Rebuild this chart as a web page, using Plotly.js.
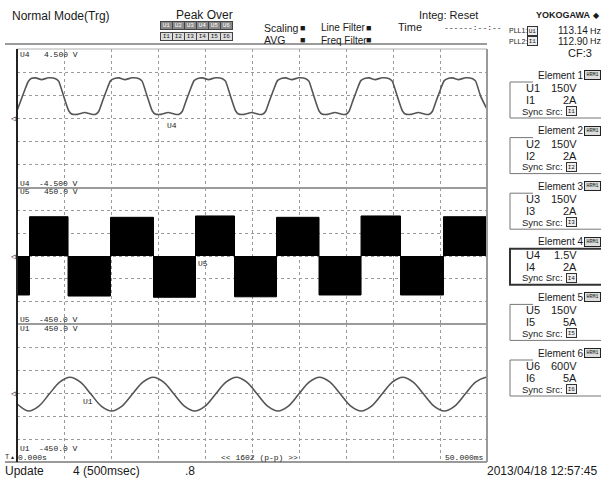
<!DOCTYPE html>
<html><head><meta charset="utf-8">
<script src="https://cdn.plot.ly/plotly-3.0.1.min.js"></script>
<style>html,body{margin:0;padding:0;background:#fff;} #chart{width:601px;height:482px;}</style>
</head><body><div id="chart"></div>
<script>
// ---- data (time in ms, values in V) ----
const timeU4 = [0, 0.43, 0.86, 1.20,
 1.56, 1.99, 2.62, 3.37, 4.11, 4.43, 4.96, 5.50, 5.82, 6.45, 7.20, 7.94, 8.37, 8.69, 9.11, 9.54, 9.96,
 10.44, 10.87, 11.50, 12.25, 12.99, 13.31, 13.84, 14.38, 14.70, 15.33, 16.08, 16.82, 17.25, 17.57, 17.99, 18.42, 18.84,
 19.31, 19.74, 20.37, 21.12, 21.86, 22.18, 22.71, 23.25, 23.57, 24.20, 24.95, 25.69, 26.12, 26.44, 26.86, 27.29, 27.71,
 28.18, 28.61, 29.24, 29.99, 30.73, 31.05, 31.58, 32.12, 32.44, 33.07, 33.82, 34.56, 34.99, 35.31, 35.73, 36.16, 36.58,
 37.05, 37.48, 38.11, 38.86, 39.60, 39.92, 40.45, 40.99, 41.31, 41.94, 42.69, 43.43, 43.86, 44.18, 44.60, 45.03, 45.45,
 45.92, 46.35, 46.98, 47.73, 48.47, 48.79, 49.32, 50.0];
const valU4 = [0.50, 1.20, 1.90, 2.40,
 2.60, 2.63, 2.52, 2.64, 2.58, 2.42, 1.45, 0.50, 0.29, 0.27, 0.39, 0.27, 0.27, 0.45, 1.15, 1.85, 2.45,
 2.60, 2.63, 2.52, 2.64, 2.58, 2.42, 1.45, 0.50, 0.29, 0.27, 0.39, 0.27, 0.27, 0.45, 1.15, 1.85, 2.45,
 2.60, 2.63, 2.52, 2.64, 2.58, 2.42, 1.45, 0.50, 0.29, 0.27, 0.39, 0.27, 0.27, 0.45, 1.15, 1.85, 2.45,
 2.60, 2.63, 2.52, 2.64, 2.58, 2.42, 1.45, 0.50, 0.29, 0.27, 0.39, 0.27, 0.27, 0.45, 1.15, 1.85, 2.45,
 2.60, 2.63, 2.52, 2.64, 2.58, 2.42, 1.45, 0.50, 0.29, 0.27, 0.39, 0.27, 0.27, 0.45, 1.15, 1.85, 2.45,
 2.60, 2.63, 2.52, 2.64, 2.58, 2.42, 1.45, 0.60];

const edgesU5 = [0, 1.33, 5.43, 9.95, 14.52, 18.99, 23.14, 27.61, 32.13, 36.60, 40.80, 45.37, 50];
const levelsU5 = [-258, 260, -265, 256, -273, 265, -270, 256, -258, 265, -258, 260, 260];

const timeU1 = [0, 1.22, 2.33, 3.43, 4.54, 5.64, 6.75, 7.86, 8.96, 10.07, 11.17, 12.28, 13.39, 14.49, 15.60, 16.70,
 17.81, 18.92, 20.02, 21.13, 22.23, 23.34, 24.45, 25.55, 26.66, 27.77, 28.87, 29.98, 31.08, 32.19, 33.30, 34.40,
 35.51, 36.62, 37.72, 38.83, 39.93, 41.04, 42.15, 43.25, 44.36, 45.47, 46.57, 47.68, 48.78, 49.89, 50.0];
const valU1 = [-70,
 -117, -85, -7, 71, 103, 71, -7, -85,
 -117, -85, -7, 71, 103, 71, -7, -85,
 -117, -85, -7, 71, 103, 71, -7, -85,
 -117, -85, -7, 71, 103, 71, -7, -85,
 -117, -85, -7, 71, 103, 71, -7, -85,
 -117, -85, -7, 71, 103,
 103];

const panelNames = ['U4', 'U5', 'U1'];
const panelTop = ['4.500 V', '450.0 V', '450.0 V'];
const panelBottom = ['-4.500 V', '-450.0 V', '-450.0 V'];

const peakU = ['U1', 'U2', 'U3', 'U4', 'U5', 'U6'];
const peakI = ['I1', 'I2', 'I3', 'I4', 'I5', 'I6'];

const elementNames = ['Element 1', 'Element 2', 'Element 3', 'Element 4', 'Element 5', 'Element 6'];
const elementU = ['U1', 'U2', 'U3', 'U4', 'U5', 'U6'];
const elementURange = ['150V', '150V', '150V', '1.5V', '150V', '600V'];
const elementI = ['I1', 'I2', 'I3', 'I4', 'I5', 'I6'];
const elementIRange = ['2A', '2A', '2A', '2A', '5A', '5A'];
const syncSrc = ['I1', 'I2', 'I3', 'I4', 'I5', 'I6'];

const pll = [['PLL1:', 'U1', '113.14', 'Hz'], ['PLL2:', 'I1', '112.90', 'Hz']];

// ---- geometry ----
const L = 17, R = 487, T = 49, B = 462;
const PH = B - T;
const F = 'Liberation Sans, Arial, sans-serif';
const M = 'Liberation Mono, DejaVu Sans Mono, monospace';
const px = x => (x - L) / (R - L);
const py = y => (B - y) / PH;

function ann(text, x, y, o) {
  return Object.assign({text: text, xref: 'paper', yref: 'paper', x: px(x), y: py(y),
    showarrow: false, xanchor: 'left', yanchor: 'middle', borderpad: 0,
    font: {family: F, size: 12, color: '#1a1a1a'}}, o || {});
}
function fs(size, fam) { return {font: {family: fam || F, size: size, color: '#1a1a1a'}}; }
function ln(x0, y0, x1, y1, color, w) {
  return {type: 'line', xref: 'paper', yref: 'paper', x0: px(x0), y0: py(y0), x1: px(x1), y1: py(y1),
    line: {color: color, width: w}};
}

const traces = [
  {x: timeU4, y: valU4, type: 'scatter', mode: 'lines', xaxis: 'x', yaxis: 'y',
   line: {color: '#555', width: 1.6, shape: 'spline', smoothing: 0.5}, hoverinfo: 'skip'},
  {x: edgesU5, y: levelsU5, type: 'scatter', mode: 'lines', xaxis: 'x', yaxis: 'y2',
   line: {color: '#000', width: 1, shape: 'hv'}, fill: 'tozeroy', fillcolor: '#000', hoverinfo: 'skip'},
  {x: timeU1, y: valU1, type: 'scatter', mode: 'lines', xaxis: 'x', yaxis: 'y3',
   line: {color: '#555', width: 1.6, shape: 'spline', smoothing: 1}, hoverinfo: 'skip'}
];

const d1 = (B - 188) / PH, d2 = (B - 324) / PH;
const gridAx = {showgrid: true, gridcolor: '#9a9a9a', griddash: 'dot', gridwidth: 1,
  showticklabels: false, ticks: '', zeroline: false, showline: false, fixedrange: true};

const layout = {
  width: 601, height: 482,
  margin: {l: L, r: 601 - R, t: T, b: 482 - B, pad: 0},
  paper_bgcolor: '#fff', plot_bgcolor: '#fff', showlegend: false,
  xaxis: Object.assign({range: [0, 50], dtick: 5, tick0: 0, anchor: 'y3'}, gridAx),
  yaxis: Object.assign({domain: [d1, 1], range: [-4.5, 4.5], dtick: 1.5, tick0: 0, anchor: 'x'}, gridAx),
  yaxis2: Object.assign({domain: [d2, d1], range: [-450, 450], dtick: 150, tick0: 0, anchor: 'x'}, gridAx),
  yaxis3: Object.assign({domain: [0, d2], range: [-450, 450], dtick: 150, tick0: 0, anchor: 'x'}, gridAx),
  shapes: [], annotations: []
};

const S = layout.shapes, A = layout.annotations;
// frame
S.push(ln(5, 44, R, 44, '#9a9a9a', 2));
S.push(ln(L, T, R, T, '#b0b0b0', 1));
S.push(ln(R, T, R, B, '#9a9a9a', 2));
S.push(ln(L, 188, R, 188, '#9a9a9a', 2));
S.push(ln(L, 324, R, 324, '#9a9a9a', 2));
S.push(ln(5, B, R, B, '#9a9a9a', 2));
S.push(ln(L, T, L, B, '#222', 2));

// header
A.push(ann('Normal Mode(Trg)', 11, 16));
A.push(ann('Peak Over', 204, 15, {xanchor: 'center'}));
peakU.forEach((t, i) => A.push(ann(t, 166 + 12 * i, 25.5, {xanchor: 'center', width: 11, height: 7,
  bgcolor: '#8a8a8a', bordercolor: '#444', borderwidth: 1, font: {family: M, size: 6, color: '#fff'}})));
peakI.forEach((t, i) => A.push(ann(t, 166 + 12 * i, 36.5, {xanchor: 'center', width: 11, height: 7,
  bgcolor: '#dcdcdc', bordercolor: '#444', borderwidth: 1, font: {family: M, size: 6, color: '#222'}})));
A.push(ann('Scaling', 263, 28, fs(10.5)));
A.push(ann('AVG', 263, 40, fs(10.5)));
A.push(ann('■', 299, 28, fs(9)));
A.push(ann('■', 299, 40, fs(9)));
A.push(ann('Line Filter', 320, 28, fs(10)));
A.push(ann('Freq Filter', 320, 40, fs(10)));
A.push(ann('■', 365, 28, fs(9)));
A.push(ann('■', 365, 40, fs(9)));
A.push(ann('Time', 397, 27, fs(11)));
A.push(ann('Integ: Reset', 418, 15, fs(11)));
A.push(ann('------:--:--', 443, 27, fs(8, M)));
A.push(ann('<b>YOKOGAWA</b>', 535, 15, fs(9)));
A.push(ann('◆', 592, 15, fs(8)));
pll.forEach((p, i) => {
  const y = 31 + 10 * i;
  A.push(ann(p[0], 508, y, fs(7)));
  A.push(ann(p[1], 532, y, {xanchor: 'center', width: 9, height: 8, bordercolor: '#333', borderwidth: 1,
    bgcolor: '#eee', font: {family: M, size: 6, color: '#222'}}));
  A.push(ann(p[2], 557, y, fs(10)));
  A.push(ann(p[3], 589, y, fs(9)));
});
A.push(ann('CF:3', 567, 53, fs(11)));

// element panels
elementNames.forEach((nm, i) => {
  const t = 75 + 55.6 * i;
  A.push(ann(nm, 537, t, fs(10)));
  A.push(ann('HRM1', 584, t, {width: 15, height: 8, bordercolor: '#222', borderwidth: 1, bgcolor: '#ddd',
    font: {family: M, size: 5, color: '#111'}}));
  A.push(ann(elementU[i], 525, t + 13, fs(11)));
  A.push(ann(elementURange[i], 578, t + 13, Object.assign({xanchor: 'right'}, fs(11))));
  A.push(ann(elementI[i], 525, t + 25, fs(11)));
  A.push(ann(elementIRange[i], 578, t + 25, Object.assign({xanchor: 'right'}, fs(11))));
  A.push(ann('Sync Src:', 521, t + 36, fs(9.5)));
  A.push(ann(syncSrc[i], 571, t + 36, {xanchor: 'center', width: 9, height: 8, bordercolor: '#333',
    borderwidth: 1, bgcolor: '#eee', font: {family: M, size: 6, color: '#222'}}));
  if (i === 3) {
    S.push({type: 'rect', xref: 'paper', yref: 'paper', x0: px(510), x1: px(605), y0: py(t + 43), y1: py(t + 7),
      line: {color: '#333', width: 2}});
  } else {
    S.push(ln(510, t + 7, 533, t + 7, '#777', 1));
    S.push(ln(510, t + 7, 510, t + 43, '#777', 1));
    S.push(ln(510, t + 43, 605, t + 43, '#777', 1));
  }
});

// panel labels
const tops = [54, 192, 328], bots = [183, 319, 448], mids = [118.5, 256, 393];
panelNames.forEach((nm, i) => {
  A.push(ann(nm, 19, tops[i], fs(8, M)));
  A.push(ann(panelTop[i], 43, tops[i], fs(8, M)));
  A.push(ann(nm, 19, bots[i], fs(8, M)));
  A.push(ann(panelBottom[i], 38, bots[i], fs(8, M)));
  A.push(ann('◁', 10, mids[i], fs(8, M)));
});
A.push(ann('U4', 166, 126, fs(8, M)));
A.push(ann('U5', 197, 263, fs(8, M)));
A.push(ann('U1', 82, 401, fs(8, M)));
A.push(ann('T', 4, 457, fs(7, M)));
A.push(ann('▲', 10, 458, fs(5, M)));
A.push(ann('0.000s', 17, 457, fs(8, M)));
A.push(ann('<< 1602 (p-p) >>', 220, 457, fs(8, M)));
A.push(ann('50.000ms', 485, 457, Object.assign({xanchor: 'right'}, fs(8, M))));

// status bar
A.push(ann('Update', 4, 471));
A.push(ann('4 (500msec)', 72, 471));
A.push(ann('.8', 184, 471));
A.push(ann('2013/04/18 12:57:45', 598, 471, {xanchor: 'right'}));

Plotly.newPlot('chart', traces, layout, {staticPlot: true, displayModeBar: false});
</script>
</body></html>
